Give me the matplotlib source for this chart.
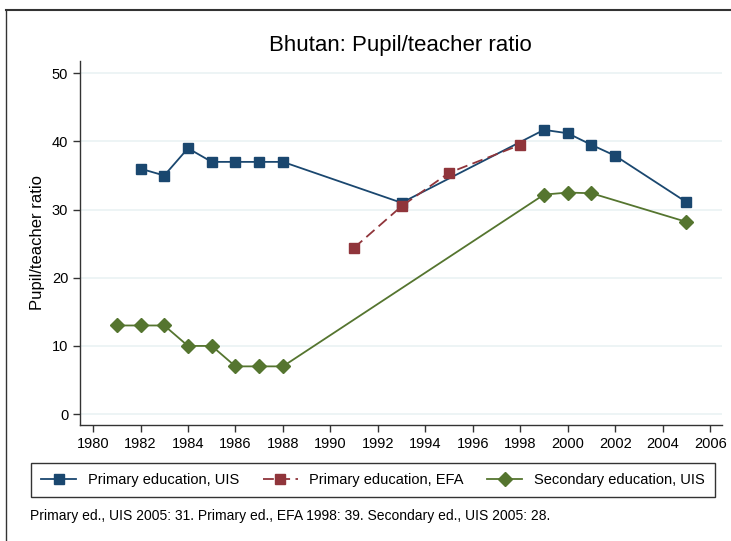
import matplotlib.pyplot as plt
from matplotlib.lines import Line2D

years_uis = [1982, 1983, 1984, 1985, 1986, 1987, 1988, 1993, 1999, 2000, 2001, 2002, 2005]
primary_uis = [36, 35, 39, 37, 37, 37, 37, 31, 41.7, 41.2, 39.5, 37.9, 31.1]

years_efa = [1991, 1993, 1995, 1998]
primary_efa = [24.4, 30.5, 35.4, 39.5]

years_sec = [1981, 1982, 1983, 1984, 1985, 1986, 1987, 1988, 1999, 2000, 2001, 2005]
secondary_uis = [13, 13, 13, 10, 10, 7, 7, 7, 32.2, 32.5, 32.4, 28.2]

xticks = list(range(1980, 2007, 2))
yticks = [0, 10, 20, 30, 40, 50]

navy = '#1a476f'
maroon = '#90353b'
green = '#55752f'

plt.rcParams['font.family'] = ['Liberation Sans', 'DejaVu Sans']

fig = plt.figure(figsize=(7.31, 5.41), dpi=100)
ax = fig.add_axes([80 / 731, 1 - 425 / 541, 642 / 731, 364 / 541])

for y in yticks:
    ax.axhline(y, color='#eaf2f3', lw=1.2, zorder=0)

ax.plot(years_uis, primary_uis, color=navy, lw=1.3, marker='s', ms=7,
        label='Primary education, UIS', zorder=3)
ax.plot(years_efa, primary_efa, color=maroon, lw=1.3, ls=(0, (6, 3)), marker='s', ms=7,
        label='Primary education, EFA', zorder=4)
ax.plot(years_sec, secondary_uis, color=green, lw=1.3, marker='D', ms=7,
        label='Secondary education, UIS', zorder=3)

ax.set_xlim(1979.45, 2006.5)
ax.set_ylim(-1.6, 51.8)
ax.set_xticks(xticks)
ax.set_yticks(yticks)
ax.tick_params(direction='out', length=5, width=1, color='#333333', labelsize=10.5)
for s in ['top', 'right']:
    ax.spines[s].set_visible(False)
for s in ['left', 'bottom']:
    ax.spines[s].set_color('#333333')
    ax.spines[s].set_linewidth(1)

ax.set_ylabel('Pupil/teacher ratio', fontsize=12)
ax.yaxis.set_label_coords(-35 / 642, 0.5)
fig.text(400 / 731, 1 - 46 / 541, 'Bhutan: Pupil/teacher ratio', ha='center', va='center', fontsize=16)

leg = fig.legend(loc='center', bbox_to_anchor=(373 / 731, 1 - 480 / 541), ncol=3,
                 frameon=True, fontsize=10.5, handlelength=2.4, columnspacing=1.6,
                 fancybox=False, edgecolor='black', borderpad=0.7)
leg.get_frame().set_linewidth(1)

fig.text(30 / 731, 1 - 516 / 541, 'Primary ed., UIS 2005: 31. Primary ed., EFA 1998: 39. Secondary ed., UIS 2005: 28.',
         ha='left', va='center', fontsize=10)

fig.add_artist(Line2D([6 / 731, 6 / 731], [0, 1 - 10 / 541], color='#333333', lw=1))
fig.add_artist(Line2D([6 / 731, 1], [1 - 10 / 541, 1 - 10 / 541], color='#333333', lw=1.5))

fig.savefig('out.png', dpi=100)
